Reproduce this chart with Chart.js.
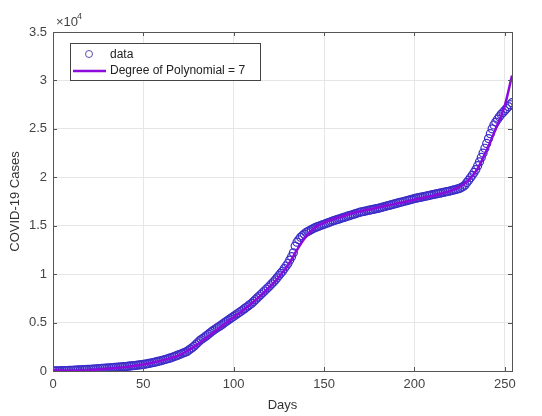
<!DOCTYPE html>
<html>
<head>
<meta charset="utf-8">
<script src="https://cdn.jsdelivr.net/npm/chart.js@4.4.1/dist/chart.umd.min.js"></script>
<style>
  html, body { margin: 0; padding: 0; background: #fff; }
  #wrap { width: 542px; height: 416px; }
</style>
</head>
<body>
<div id="wrap"><canvas id="chart" width="542" height="416"></canvas></div>
<script>
// Günlük vaka sayıları (gün 0..254)
const caseValues = [
  0, 6, 12, 18, 24, 30, 38, 46, 54, 62,
  70, 80, 90, 100, 110, 120, 130, 140, 150, 160,
  170, 182, 194, 206, 218, 230, 248, 270, 283, 296,
  310, 324, 338, 352, 366, 380, 396, 412, 428, 444,
  460, 480, 500, 520, 540, 560, 584, 608, 632, 656,
  680, 712, 745, 780, 815, 850, 895, 940, 985, 1030,
  1080, 1130, 1185, 1240, 1295, 1350, 1420, 1490, 1560, 1630,
  1700, 1775, 1850, 1925, 2000, 2130, 2260, 2400, 2550, 2730,
  2910, 3100, 3240, 3380, 3520, 3650, 3800, 3950, 4100, 4230,
  4360, 4480, 4600, 4730, 4860, 5000, 5130, 5260, 5390, 5520,
  5650, 5780, 5910, 6040, 6170, 6300, 6440, 6580, 6720, 6860,
  7000, 7180, 7360, 7540, 7720, 7900, 8080, 8260, 8440, 8620,
  8800, 9000, 9200, 9400, 9620, 9850, 10080, 10300, 10570, 10840,
  11100, 11450, 11800, 12200, 12900, 13300, 13550, 13800, 13970, 14140,
  14300, 14400, 14500, 14600, 14700, 14800, 14870, 14940, 15010, 15080,
  15150, 15220, 15290, 15360, 15430, 15500, 15560, 15620, 15680, 15740,
  15800, 15860, 15920, 15980, 16040, 16100, 16160, 16220, 16280, 16340,
  16400, 16440, 16480, 16520, 16560, 16600, 16640, 16680, 16720, 16760,
  16800, 16850, 16900, 16950, 17000, 17050, 17100, 17150, 17200, 17250,
  17300, 17350, 17400, 17450, 17500, 17550, 17600, 17650, 17700, 17750,
  17800, 17840, 17880, 17920, 17960, 18000, 18040, 18080, 18120, 18160,
  18200, 18240, 18280, 18320, 18360, 18400, 18440, 18480, 18520, 18560,
  18600, 18650, 18700, 18750, 18800, 18850, 18950, 19050, 19200, 19450,
  19700, 19950, 20200, 20500, 20800, 21200, 21600, 22050, 22500, 23000,
  23500, 24000, 24500, 25000, 25400, 25700, 26000, 26250, 26500, 26700,
  26900, 27100, 27300, 27500, 27700
];

// 7. derece polinom eğrisi, grafikten 5 günde bir okunan noktalar
const fitDays = [0, 5, 10, 15, 20, 25, 30, 35, 40, 45, 50, 55, 60, 65, 70, 75, 80, 85, 90, 95,
  100, 105, 110, 115, 120, 125, 130, 135, 140, 145, 150, 155, 160, 165, 170, 175, 180, 185,
  190, 195, 200, 205, 210, 215, 220, 225, 230, 235, 240, 245, 250, 254];
const fitValues = [100, 40, 30, 50, 90, 150, 220, 300, 400, 520, 670, 850, 1070, 1330, 1640, 2150,
  2750, 3450, 4150, 4850, 5550, 6250, 7000, 7800, 8700, 9700, 10900, 12500, 13900, 14800,
  15300, 15650, 15950, 16250, 16480, 16680, 16880, 17080, 17280, 17480, 17680, 17880,
  18080, 18320, 18600, 19000, 19700, 20900, 22800, 25000, 27400, 30500];

// Eksen ayarları
const xTicks = [0, 50, 100, 150, 200, 250];
const yTicks = [0, 5000, 10000, 15000, 20000, 25000, 30000, 35000];
const xMax = 254;
const seriesLabels = ['data', 'Degree of Polynomial = 7'];

const dataColor = 'rgb(60,45,200)';
const fitColor = 'rgb(140,10,220)';
const FONT = '"Liberation Sans", Arial, sans-serif';

const dataPoints = caseValues.map((v, i) => ({ x: i, y: v }));
const fitPoints = fitDays.map((d, i) => ({ x: d, y: fitValues[i] }));

// Çerçeve, içe dönük tik çizgileri, x10^4 etiketi ve lejant
const matlabStyle = {
  id: 'matlabStyle',
  afterDatasetsDraw(chart) {
    const { ctx, chartArea: a, scales } = chart;
    ctx.save();
    ctx.strokeStyle = '#555';
    ctx.lineWidth = 1;
    ctx.strokeRect(Math.round(a.left) + 0.5, Math.round(a.top) + 0.5,
      Math.round(a.right - a.left), Math.round(a.bottom - a.top));

    ctx.beginPath();
    xTicks.forEach(t => {
      const px = Math.round(scales.x.getPixelForValue(t)) + 0.5;
      ctx.moveTo(px, a.bottom); ctx.lineTo(px, a.bottom - 4);
      ctx.moveTo(px, a.top); ctx.lineTo(px, a.top + 4);
    });
    yTicks.forEach(t => {
      const py = Math.round(scales.y.getPixelForValue(t)) + 0.5;
      ctx.moveTo(a.left, py); ctx.lineTo(a.left + 4, py);
      ctx.moveTo(a.right, py); ctx.lineTo(a.right - 4, py);
    });
    ctx.stroke();

    // x10^4
    ctx.fillStyle = '#444';
    ctx.textBaseline = 'alphabetic';
    ctx.textAlign = 'left';
    ctx.font = '13px ' + FONT;
    ctx.fillText('\u00d710', a.left + 3, a.top - 6);
    ctx.font = '9px ' + FONT;
    ctx.fillText('4', a.left + 24, a.top - 13);

    // Lejant kutusu
    const lx = 70, ly = 43, lw = 190, lh = 37;
    ctx.fillStyle = '#fff';
    ctx.fillRect(lx, ly, lw, lh);
    ctx.strokeStyle = '#444';
    ctx.strokeRect(lx + 0.5, ly + 0.5, lw, lh);

    ctx.strokeStyle = 'rgb(90,80,170)';
    ctx.lineWidth = 1;
    ctx.beginPath();
    ctx.arc(89, 54, 3.5, 0, Math.PI * 2);
    ctx.stroke();

    ctx.strokeStyle = fitColor;
    ctx.lineWidth = 2.5;
    ctx.beginPath();
    ctx.moveTo(73, 71); ctx.lineTo(106, 71);
    ctx.stroke();

    ctx.fillStyle = '#222';
    ctx.font = '12px ' + FONT;
    ctx.textBaseline = 'middle';
    ctx.fillText(seriesLabels[0], 110, 55);
    ctx.fillText(seriesLabels[1], 110, 71);
    ctx.restore();
  }
};

const ctx = document.getElementById('chart').getContext('2d');
new Chart(ctx, {
  type: 'scatter',
  data: {
    datasets: [{
      label: seriesLabels[0],
      data: dataPoints,
      showLine: false,
      pointStyle: 'circle',
      pointRadius: 4,
      pointBorderWidth: 1.2,
      pointBorderColor: dataColor,
      pointBackgroundColor: 'rgba(0,0,0,0)',
      order: 2
    }, {
      label: seriesLabels[1],
      data: fitPoints,
      showLine: true,
      borderColor: fitColor,
      borderWidth: 2.5,
      pointRadius: 0,
      tension: 0.4,
      cubicInterpolationMode: 'monotone',
      order: 1
    }]
  },
  options: {
    responsive: false,
    animation: false,
    layout: { padding: { left: 0, top: 32, right: 30, bottom: 0 } },
    plugins: {
      legend: { display: false },
      tooltip: { enabled: false }
    },
    scales: {
      x: {
        type: 'linear',
        min: 0,
        max: xMax,
        border: { display: false },
        grid: { color: '#e6e6e6', drawTicks: false },
        afterBuildTicks: s => { s.ticks = xTicks.map(v => ({ value: v })); },
        afterFit: s => { s.height = 45; },
        ticks: {
          includeBounds: false,
          padding: 6,
          color: '#444',
          font: { family: FONT, size: 13 },
          maxRotation: 0
        },
        title: {
          display: true,
          text: 'Days',
          color: '#333',
          font: { family: FONT, size: 13 },
          padding: { top: 0, bottom: 3 }
        }
      },
      y: {
        min: 0,
        max: 35000,
        border: { display: false },
        grid: { color: '#e6e6e6', drawTicks: false },
        afterBuildTicks: s => { s.ticks = yTicks.map(v => ({ value: v })); },
        afterFit: s => { s.width = 53; },
        ticks: {
          padding: 6,
          color: '#444',
          font: { family: FONT, size: 13 },
          callback: v => String(v / 10000)
        },
        title: {
          display: true,
          text: 'COVID-19 Cases',
          color: '#333',
          font: { family: FONT, size: 13 },
          padding: { top: 8, bottom: 0 }
        }
      }
    }
  },
  plugins: [matlabStyle]
});
</script>
</body>
</html>
